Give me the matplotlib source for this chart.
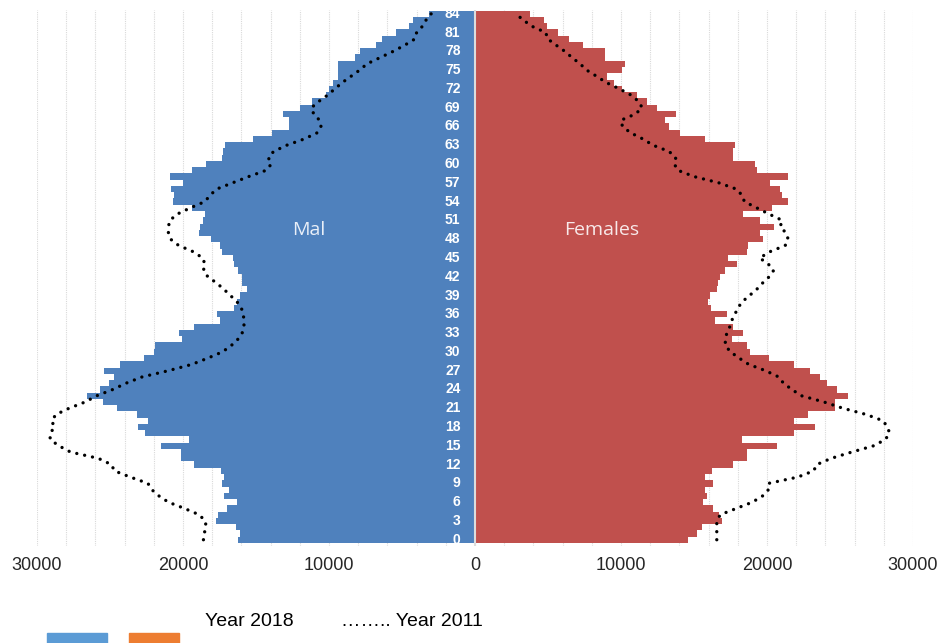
"""Population pyramid, 2018 bars with 2011 dotted outline."""

import matplotlib

matplotlib.use("Agg")

import matplotlib.pyplot as plt
from matplotlib.patches import Rectangle

# ages 0..84 (index = age)
ages = list(range(85))

male_2018 = [
    16250, 16090, 16380, 17750, 17570, 17000, 16320, 17160, 16840, 17300,
    17160, 17390, 19280, 20130, 20130, 21500, 19580, 22600, 23050, 22370,
    23170, 24540, 25500, 26590, 25680, 25100, 24760, 25380, 24300, 22700,
    22020, 21900, 20100, 20300, 19280, 17450, 17680, 16540, 16310, 16080,
    15630, 15970, 15970, 16200, 16540, 16590, 17340, 17450, 18100, 18900,
    18850, 18650, 18480, 19400, 20700, 20600, 20800, 20000, 20880, 19400,
    18410, 17300, 17230, 17110, 15220, 13900, 12770, 12770, 13120, 11970,
    11180, 10200, 10000, 9700, 9400, 9400, 9350, 8210, 7910, 6790,
    6340, 5400, 4510, 4260, 3140,
]

female_2018 = [
    14620, 15190, 15540, 16900, 16680, 16330, 15650, 15880, 15760, 16330,
    15760, 16220, 17700, 18620, 18620, 20670, 18280, 21820, 23300, 21820,
    22840, 24670, 24670, 25580, 24780, 24100, 23640, 22950, 21850, 20170,
    18840, 18610, 17590, 18390, 17700, 16450, 17250, 16170, 15990, 16100,
    16560, 16630, 16790, 17130, 17930, 17310, 18610, 18680, 19760, 19530,
    20510, 19530, 18390, 20330, 21470, 21010, 20900, 20210, 21430, 19300,
    19200, 17700, 17700, 17820, 15760, 14050, 13300, 12980, 13750, 12450,
    11770, 11080, 10060, 9490, 9030, 10060, 10290, 8920, 8920, 7430,
    6450, 5670, 4920, 4760, 3780,
]

male_2011 = [
    18600, 18550, 18420, 18470, 18900, 19900, 21000, 21650, 22140, 22400,
    23600, 24700, 24900, 25800, 27700, 28500, 29100, 29100, 28800, 29000,
    28700, 27800, 26700, 25900, 24800, 23900, 22800, 21000, 19400, 18300,
    17300, 16700, 16250, 15950, 15830, 15810, 15880, 16000, 16300, 16750,
    17200, 17700, 18300, 18600, 18500, 18650, 19300, 20300, 20850, 21000,
    21000, 20900, 20400, 19500, 18500, 18150, 17700, 16600, 15500, 14300,
    13950, 14150, 13800, 12900, 11700, 10800, 10550, 10650, 11050, 11200,
    10700, 10100, 9600, 9100, 8500, 7900, 7400, 6500, 5600, 4800,
    4100, 4000, 3600, 3350, 3000,
]

female_2011 = [
    16560, 16560, 16560, 16560, 16800, 17900, 19000, 19700, 20100, 20100,
    22100, 23200, 23400, 24400, 25800, 27300, 28100, 28400, 28250, 27950,
    26800, 25200, 23900, 22350, 21700, 21130, 20800, 19900, 18750, 18100,
    17500, 17150, 17140, 17250, 17450, 17580, 17800, 18000, 18300, 18800,
    19300, 19700, 20150, 20450, 20100, 19500, 20200, 21250, 21450, 21300,
    20900, 21050, 20150, 19300, 18450, 18300, 17900, 16700, 15000, 13900,
    13650, 13750, 13300, 12200, 11500, 10650, 10100, 10000, 11000, 11450,
    11200, 10700, 9900, 9000, 8340, 7650, 7200, 6650, 6150, 5550,
    4970, 4850, 3900, 3300, 2800,
]

age_labels = list(range(0, 85, 3))
x_ticks = [-30000, -20000, -10000, 0, 10000, 20000, 30000]
grid_lines = list(range(-30000, 30001, 2000))

plt.rcParams["font.family"] = ["Liberation Sans", "DejaVu Sans"]

fig = plt.figure(figsize=(9.46, 6.43), dpi=100)
ax = fig.add_axes([37 / 946, 97 / 643, 876 / 946, 536 / 643])

for xv in grid_lines:
    ax.axvline(xv, color="#d9d9d9", lw=0.8, ls=(0, (1, 1)), zorder=0)

ax.barh(ages, [-v for v in male_2018], height=1.0, color="#4f81bd", zorder=2)
ax.barh(ages, female_2018, height=1.0, color="#c0504d", zorder=2)
ax.axvline(0, color="#dcdcdc", lw=1.5, zorder=3)

dots = dict(color="black", lw=2.4, ls=(0, (0.01, 2.4)), dash_capstyle="round", zorder=4)
ax.plot([-v for v in male_2011], ages, **dots)
ax.plot(female_2011, ages, **dots)

for a in age_labels:
    ax.text(-1000, a, str(a), ha="right", va="center", color="white",
            fontweight="bold", fontsize=10, zorder=5)

ax.text(-11400, 49.5, "Mal", ha="center", va="center", color="#e9eff8",
        fontsize=14, family=["Open Sans", "DejaVu Sans"], zorder=5)
ax.text(8700, 49.5, "Females", ha="center", va="center", color="#f8e9e9",
        fontsize=14, family=["Open Sans", "DejaVu Sans"], zorder=5)

ax.set_xlim(-30000, 30000)
ax.set_ylim(-1, 84.6)
ax.set_xticks(x_ticks)
ax.set_xticklabels([str(abs(v)) for v in x_ticks])
ax.set_yticks([])
ax.tick_params(axis="x", length=0, pad=8, labelsize=13, labelcolor="#262626")
for spine in ax.spines.values():
    spine.set_visible(False)

# legend strip under the chart
fig.text(205 / 946, 1 - 621 / 643, "Year 2018", fontsize=14, va="center", ha="left")
fig.text(341 / 946, 1 - 621 / 643, "…….. Year 2011", fontsize=14, va="center", ha="left")
fig.add_artist(Rectangle((47 / 946, -0.01), 60 / 946, 10 / 643 + 0.01,
                         transform=fig.transFigure, color="#5b9bd5"))
fig.add_artist(Rectangle((129 / 946, -0.01), 50 / 946, 10 / 643 + 0.01,
                         transform=fig.transFigure, color="#ed7d31"))

fig.savefig("out.png", dpi=100)
